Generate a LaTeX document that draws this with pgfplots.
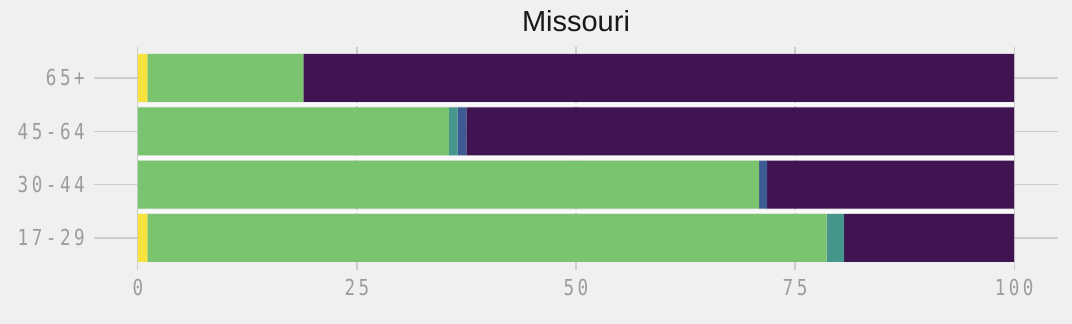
\documentclass[border=0pt]{standalone}
\usepackage{pgfplots}
\pgfplotsset{compat=1.18}
\usepackage{fontspec}
\setmainfont{Liberation Sans}
\newfontfamily\tickfont[FakeStretch=0.8, LetterSpace=16]{DejaVu Sans Mono}
\definecolor{bgc}{HTML}{F0F0F0}
\definecolor{gridc}{HTML}{CDCDCD}
\definecolor{ticktxt}{HTML}{9C9C9C}
\definecolor{cyel}{HTML}{F8E23C}
\definecolor{cgrn}{HTML}{7BC46F}
\definecolor{ctea}{HTML}{46968C}
\definecolor{cblu}{HTML}{3D5A92}
\definecolor{cpur}{HTML}{3F1451}
\begin{document}
\begin{tikzpicture}
\fill[bgc] (-94bp,-54bp) rectangle (978bp,270bp);
\begin{axis}[
  at={(0,0)}, anchor=south west,
  scale only axis, width=964bp, height=223bp,
  xmin=-5, xmax=105, ymin=-0.6, ymax=3.58,
  xbar stacked, bar width=48bp,
  axis line style={draw=none},
  major tick length=0pt,
  xtick={0,25,50,75,100},
  ytick={0,1,2,3},
  yticklabels={17-29,30-44,45-64,65+},
  grid=major,
  grid style={gridc, line width=1.3bp},
  /pgf/number format/assume math mode=true,
  ticklabel style={font=\tickfont\fontsize{22bp}{24bp}\selectfont, text=ticktxt},
  xticklabel style={inner sep=0pt, anchor=north, yshift=-9bp},
  yticklabel style={inner sep=0pt, anchor=east, xshift=-9bp},
  title={Missouri},
  title style={at={(0.5,1)}, anchor=base, yshift=10bp, inner sep=0pt,
    font=\fontsize{29bp}{34bp}\selectfont, text={black!90}},
]
\addplot[fill=cyel, draw=none] coordinates {(1.1,0) (0,1) (0,2) (1.1,3)};
\addplot[fill=cgrn, draw=none] coordinates {(77.5,0) (70.9,1) (35.5,2) (17.8,3)};
\addplot[fill=ctea, draw=none] coordinates {(2.0,0) (0,1) (1.0,2) (0,3)};
\addplot[fill=cblu, draw=none] coordinates {(0,0) (0.9,1) (1.0,2) (0,3)};
\addplot[fill=cpur, draw=none] coordinates {(19.4,0) (28.2,1) (62.5,2) (81.1,3)};
\end{axis}
\begin{axis}[
  at={(0,0)}, anchor=south west,
  scale only axis, width=964bp, height=223bp,
  xmin=-5, xmax=105, ymin=-0.6, ymax=3.58,
  hide axis,
]
\addplot[color=white!60!bgc, line width=3.5bp] coordinates {(0,0.5) (100,0.5)};
\addplot[color=white!60!bgc, line width=3.5bp] coordinates {(0,1.5) (100,1.5)};
\addplot[color=white!60!bgc, line width=3.5bp] coordinates {(0,2.5) (100,2.5)};
\end{axis}
\end{tikzpicture}
\end{document}
